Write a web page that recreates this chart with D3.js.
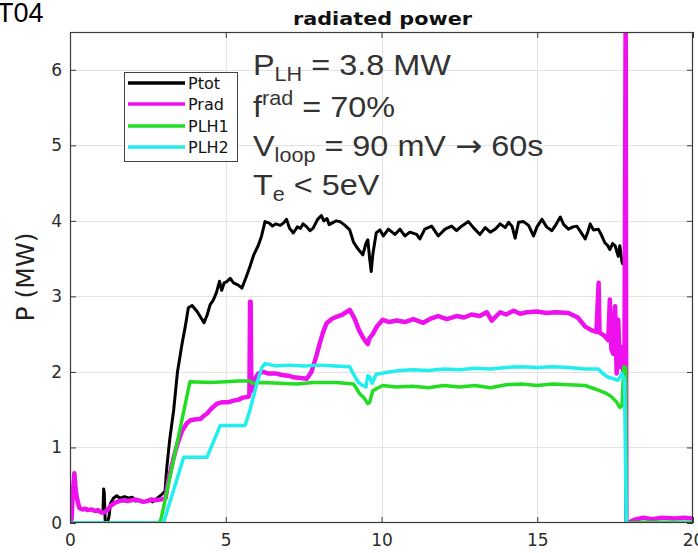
<!DOCTYPE html>
<html>
<head>
<meta charset="utf-8">
<script src="https://cdn.jsdelivr.net/npm/d3@7"></script>
<style>
  html, body { margin: 0; padding: 0; background: #fff; }
  svg { display: block; }
</style>
</head>
<body>
<div id="chart"></div>
<script>
// ---- data (time in s, power in MW) ----
const xTicks = [0, 5, 10, 15, 20];
const yTicks = [0, 1, 2, 3, 4, 5, 6];

const seriesNames = ["Ptot", "Prad", "PLH1", "PLH2"];
const seriesColors = ["#000000", "#ee11ee", "#22dd22", "#22eeee"];

const ptotTime = [1.00,1.06,1.08,1.10,1.13,1.20,1.25,1.30,1.40,1.50,1.60,1.75,1.90,2.00,2.10,2.25,2.40,2.55,2.65,2.80,2.95,3.05,3.10,3.20,3.33,3.45,3.60,3.70,3.80,3.92,4.00,4.08,4.20,4.30,4.40,4.50,4.60,4.70,4.80,4.87,4.95,5.05,5.14,5.25,5.40,5.52,5.65,5.78,5.90,6.05,6.15,6.26,6.40,6.50,6.60,6.75,6.85,6.95,7.05,7.17,7.30,7.40,7.48,7.60,7.70,7.80,7.95,8.07,8.15,8.25,8.32,8.45,8.55,8.66,8.80,8.98,9.10,9.19,9.30,9.40,9.50,9.56,9.62,9.67,9.72,9.83,9.95,10.06,10.22,10.43,10.59,10.75,10.91,11.13,11.23,11.39,11.61,11.82,12.04,12.25,12.41,12.57,12.79,12.95,13.16,13.33,13.49,13.65,13.81,13.97,14.08,14.19,14.29,14.40,14.56,14.72,14.88,14.99,15.15,15.30,15.47,15.60,15.74,15.85,16.00,16.15,16.27,16.40,16.54,16.62,16.70,16.80,16.96,17.05,17.17,17.25,17.33,17.42,17.50,17.60,17.65,17.72,17.76];
const ptotValue = [0.15,0.16,0.45,0.40,0.02,0.00,0.08,0.26,0.33,0.36,0.33,0.35,0.33,0.34,0.29,0.30,0.28,0.31,0.28,0.33,0.38,0.42,0.70,1.10,1.50,2.00,2.38,2.60,2.85,2.88,2.84,2.80,2.72,2.65,2.75,2.89,2.95,3.05,3.20,3.08,3.18,3.20,3.24,3.18,3.15,3.11,3.25,3.40,3.55,3.68,3.80,3.99,3.97,3.93,3.96,3.94,3.97,4.02,3.90,3.84,3.92,3.90,3.96,3.92,3.87,3.90,4.02,4.07,4.00,4.03,3.95,3.98,4.00,3.99,3.95,3.88,3.72,3.66,3.60,3.55,3.70,3.75,3.50,3.33,3.55,3.84,3.88,3.80,3.89,3.82,3.89,3.80,3.85,3.82,3.76,3.89,3.93,3.80,3.89,3.93,3.87,3.93,3.99,3.91,3.82,3.91,3.85,3.89,3.96,3.91,3.98,3.93,3.77,3.98,3.99,3.94,3.80,3.92,4.02,3.92,3.87,3.95,4.05,3.95,3.89,3.92,3.93,3.85,3.76,3.85,3.96,3.88,3.89,3.82,3.71,3.68,3.62,3.70,3.67,3.53,3.67,3.45,3.42];

const pradTime = [0.00,0.05,0.10,0.14,0.17,0.20,0.25,0.30,0.40,0.50,0.57,0.70,0.80,0.90,1.00,1.09,1.20,1.31,1.45,1.58,1.70,1.85,2.06,2.20,2.35,2.48,2.60,2.75,2.90,3.00,3.07,3.15,3.33,3.45,3.60,3.75,3.87,4.00,4.20,4.30,4.40,4.55,4.72,4.90,5.10,5.25,5.40,5.55,5.73,5.76,5.78,5.80,5.82,5.88,5.95,6.05,6.20,6.35,6.60,6.80,7.00,7.17,7.40,7.60,7.75,7.90,8.02,8.12,8.23,8.40,8.55,8.75,8.90,8.98,9.08,9.15,9.28,9.40,9.50,9.56,9.62,9.72,9.85,10.04,10.25,10.49,10.75,11.02,11.34,11.60,11.82,12.10,12.41,12.65,12.89,13.15,13.38,13.54,13.81,14.00,14.24,14.45,14.67,14.99,15.30,15.60,16.00,16.30,16.54,16.75,16.90,16.97,17.00,17.15,17.28,17.33,17.38,17.44,17.50,17.55,17.60,17.65,17.70,17.76,17.80,17.84,17.86,17.92,18.10,18.40,18.70,19.00,19.40,19.70,20.00];
const pradValue = [0.00,0.05,0.45,0.66,0.50,0.38,0.28,0.20,0.18,0.19,0.17,0.18,0.16,0.17,0.14,0.14,0.17,0.23,0.27,0.29,0.30,0.29,0.31,0.30,0.28,0.29,0.31,0.30,0.31,0.32,0.33,0.55,0.87,1.05,1.22,1.32,1.36,1.37,1.38,1.42,1.45,1.52,1.58,1.60,1.60,1.62,1.63,1.66,1.67,1.71,2.93,2.93,1.75,1.80,1.92,1.98,2.00,1.98,1.98,1.96,1.95,1.93,1.92,1.91,2.00,2.20,2.38,2.52,2.64,2.70,2.73,2.76,2.80,2.82,2.75,2.69,2.55,2.46,2.40,2.37,2.45,2.50,2.60,2.69,2.66,2.68,2.66,2.70,2.65,2.71,2.74,2.70,2.74,2.72,2.76,2.74,2.79,2.68,2.79,2.76,2.81,2.77,2.79,2.80,2.78,2.79,2.78,2.72,2.60,2.55,2.53,3.18,2.52,2.48,2.42,2.96,2.30,2.24,2.87,1.98,2.69,2.07,2.33,1.98,2.10,6.90,-0.02,0.00,0.04,0.07,0.05,0.07,0.06,0.07,0.06];

const plh1Time = [0.00,2.85,2.92,3.00,3.85,4.50,5.00,5.40,5.78,5.85,6.20,6.70,7.30,7.80,8.55,9.10,9.20,9.30,9.45,9.56,9.62,9.72,9.85,10.04,10.47,11.00,11.50,12.00,12.50,13.00,13.50,14.00,14.50,15.00,15.50,16.00,16.54,16.96,17.20,17.39,17.55,17.65,17.72,17.78,17.84,17.86,18.50,20.00];
const plh1Value = [0.00,0.00,0.05,0.20,1.87,1.86,1.87,1.88,1.88,1.85,1.86,1.85,1.84,1.86,1.86,1.84,1.78,1.71,1.65,1.58,1.60,1.75,1.78,1.82,1.80,1.81,1.79,1.82,1.80,1.82,1.79,1.83,1.84,1.82,1.84,1.83,1.82,1.76,1.72,1.67,1.60,1.53,1.55,2.07,2.05,0.00,0.01,0.01];

const plh2Time = [0.00,3.00,3.65,4.40,4.82,5.62,5.78,6.00,6.15,6.26,6.60,7.00,7.50,8.00,8.50,8.98,9.10,9.26,9.40,9.50,9.56,9.62,9.70,9.83,10.25,10.60,11.00,11.50,12.00,12.50,13.00,13.50,14.00,14.50,15.00,15.50,16.00,16.54,16.96,17.10,17.28,17.45,17.60,17.71,17.80,17.86,18.00,20.00];
const plh2Value = [0.00,0.00,0.87,0.87,1.29,1.29,1.50,1.85,2.05,2.11,2.08,2.09,2.08,2.09,2.08,2.07,1.97,1.86,1.82,1.80,1.95,1.93,1.85,1.97,2.00,2.02,2.03,2.02,2.04,2.03,2.05,2.04,2.06,2.07,2.06,2.07,2.06,2.04,2.04,1.98,1.93,1.91,1.89,1.98,1.90,0.00,-0.01,0.00];

const seriesTimes = [ptotTime, pradTime, plh1Time, plh2Time];
const seriesValues = [ptotValue, pradValue, plh1Value, plh2Value];
const seriesWidths = [3, 4.5, 3.5, 3.5];

// ---- layout ----
const W = 698, H = 553;
const plot = { left: 70, right: 693, top: 32, bottom: 523 };

const svg = d3.select("#chart").append("svg")
  .attr("width", W).attr("height", H)
  .attr("viewBox", `0 0 ${W} ${H}`);

const x = d3.scaleLinear().domain([0, 20]).range([plot.left, plot.right]);
const y = d3.scaleLinear().domain([0, 6.5]).range([plot.bottom, plot.top]);

// grid
const grid = svg.append("g").attr("stroke", "#e3e3e3").attr("stroke-width", 1);
grid.selectAll("line.gx").data(xTicks.filter(d => d > 0 && d < 20)).join("line")
  .attr("x1", d => Math.round(x(d)) + 0.5).attr("x2", d => Math.round(x(d)) + 0.5)
  .attr("y1", plot.top).attr("y2", plot.bottom);
grid.selectAll("line.gy").data(yTicks.filter(d => d > 0)).join("line")
  .attr("y1", d => Math.round(y(d)) + 0.5).attr("y2", d => Math.round(y(d)) + 0.5)
  .attr("x1", plot.left).attr("x2", plot.right);

// clip
svg.append("clipPath").attr("id", "plotClip").append("rect")
  .attr("x", plot.left).attr("y", plot.top)
  .attr("width", plot.right - plot.left).attr("height", plot.bottom - plot.top);

const line = d3.line().x(d => x(d[0])).y(d => y(d[1]));
const lines = svg.append("g").attr("clip-path", "url(#plotClip)");
seriesNames.forEach((name, i) => {
  const pts = seriesTimes[i].map((t, k) => [t, seriesValues[i][k]]);
  lines.append("path")
    .datum(pts)
    .attr("fill", "none")
    .attr("stroke", seriesColors[i])
    .attr("stroke-width", seriesWidths[i])
    .attr("stroke-linejoin", "round")
    .attr("d", line);
});

// axes (ticks pointing inward, box around the plot)
const axisColor = "#3a3a3a";
const fontTicks = "'DejaVu Sans', sans-serif";
const fmt = d3.format("d");

const xAxis = svg.append("g").attr("transform", `translate(0,${plot.bottom})`)
  .call(d3.axisBottom(x).tickValues(xTicks).tickFormat(fmt).tickSizeInner(-6).tickSizeOuter(0).tickPadding(11));
const xAxisTop = svg.append("g").attr("transform", `translate(0,${plot.top})`)
  .call(d3.axisTop(x).tickValues(xTicks).tickSizeInner(-6).tickSizeOuter(0).tickFormat(""));
const yAxis = svg.append("g").attr("transform", `translate(${plot.left},0)`)
  .call(d3.axisLeft(y).tickValues(yTicks).tickFormat(fmt).tickSizeInner(-6).tickSizeOuter(0).tickPadding(8));
const yAxisRight = svg.append("g").attr("transform", `translate(${plot.right},0)`)
  .call(d3.axisRight(y).tickValues(yTicks).tickSizeInner(-6).tickSizeOuter(0).tickFormat(""));

[xAxis, xAxisTop, yAxis, yAxisRight].forEach(g => {
  g.select(".domain").remove();
  g.selectAll(".tick line").attr("stroke", axisColor);
  g.selectAll(".tick text")
    .attr("fill", "#2b2b2b")
    .style("font-family", fontTicks)
    .style("font-size", "17px");
});

svg.append("rect")
  .attr("x", plot.left + 0.5).attr("y", plot.top + 0.5)
  .attr("width", plot.right - plot.left - 1).attr("height", plot.bottom - plot.top - 1)
  .attr("fill", "none").attr("stroke", axisColor).attr("stroke-width", 1.2);

// titles
svg.append("text")
  .attr("x", 293).attr("y", 25)
  .attr("textLength", 179).attr("lengthAdjust", "spacingAndGlyphs")
  .style("font-family", "'DejaVu Sans', sans-serif")
  .style("font-weight", "bold").style("font-size", "18px")
  .attr("fill", "#111")
  .text("radiated power");

svg.append("text")
  .attr("x", -3).attr("y", 22)
  .style("font-family", "'Liberation Sans', Arial, sans-serif")
  .style("font-size", "27px")
  .attr("fill", "#000")
  .text("T04");

svg.append("text")
  .attr("transform", `translate(34,277) rotate(-90)`)
  .attr("text-anchor", "middle")
  .style("font-family", "'DejaVu Sans', sans-serif")
  .style("font-size", "25px")
  .attr("fill", "#222")
  .text("P (MW)");

// legend
const legend = svg.append("g");
legend.append("rect")
  .attr("x", 124.5).attr("y", 72.5).attr("width", 113).attr("height", 89)
  .attr("fill", "#fff").attr("stroke", "#444").attr("stroke-width", 1);
const legendY = [83, 104, 126, 147];
seriesNames.forEach((name, i) => {
  legend.append("line")
    .attr("x1", 128).attr("x2", 185)
    .attr("y1", legendY[i]).attr("y2", legendY[i])
    .attr("stroke", seriesColors[i]).attr("stroke-width", 3.5);
  legend.append("text")
    .attr("x", 188).attr("y", legendY[i] + 6)
    .style("font-family", "'DejaVu Sans', sans-serif")
    .style("font-size", "16px")
    .attr("fill", "#111")
    .text(name);
});

// annotation block
const note = svg.append("g")
  .attr("transform", "translate(253,0) scale(1.08,1)")
  .style("font-family", "'Liberation Sans', Arial, sans-serif")
  .attr("fill", "#333");

function noteLine(yBase, parts) {
  const t = note.append("text").attr("x", 0).attr("y", yBase).style("font-size", "30px");
  let shift = 0;
  parts.forEach(p => {
    const ts = t.append("tspan").text(p.text);
    const target = p.sub ? 6 : p.sup ? -12 : 0;
    if (target !== shift) ts.attr("dy", target - shift);
    if (p.sub || p.sup) ts.style("font-size", "20px");
    if (p.family) ts.style("font-family", p.family);
    shift = target;
  });
}
noteLine(75, [{ text: "P" }, { text: "LH", sub: true }, { text: " = 3.8 MW" }]);
noteLine(117, [{ text: "f" }, { text: "rad", sup: true }, { text: " = 70%" }]);
noteLine(156, [{ text: "V" }, { text: "loop", sub: true }, { text: " = 90 mV " },
               { text: "\u2192", family: "'DejaVu Sans', sans-serif" }, { text: " 60s" }]);
noteLine(195, [{ text: "T" }, { text: "e", sub: true }, { text: " < 5eV" }]);
</script>
</body>
</html>
